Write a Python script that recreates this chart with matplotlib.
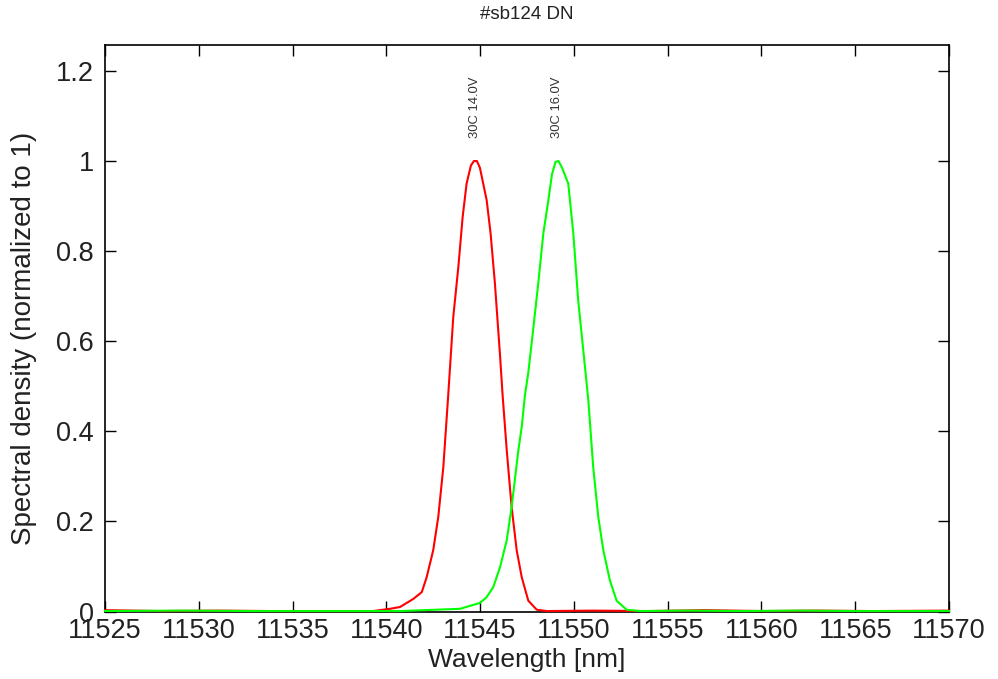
import matplotlib
matplotlib.use('Agg')
import matplotlib.pyplot as plt
from matplotlib.ticker import FuncFormatter

plt.rcParams['font.family'] = ['Liberation Sans', 'DejaVu Sans']

# spectra (wavelength in nm, normalized density)
wl_red = [11525, 11528, 11531, 11534, 11537, 11539.29, 11540.2, 11540.73, 11541.44,
          11541.89, 11542.15, 11542.5, 11542.77, 11543.04, 11543.3, 11543.57, 11543.84,
          11544.07, 11544.28, 11544.51, 11544.67, 11544.83, 11544.99, 11545.35, 11545.56,
          11545.79, 11546.06, 11546.2, 11546.42, 11546.68, 11546.95, 11547.22, 11547.57,
          11548.02, 11548.55, 11551, 11554, 11557, 11560, 11563, 11566, 11570]
sd_red = [0.003, 0.001, 0.002, 0.001, 0.001, 0.001, 0.006, 0.010, 0.028,
          0.043, 0.076, 0.136, 0.21, 0.321, 0.48, 0.654, 0.765,
          0.876, 0.95, 0.99, 1.0, 1.0, 0.985, 0.913, 0.839,
          0.728, 0.57, 0.48, 0.358, 0.232, 0.136, 0.076, 0.024,
          0.004, 0.001, 0.002, 0.001, 0.003, 0.001, 0.002, 0.001, 0.002]

wl_green = [11525, 11529, 11533, 11537, 11540.73, 11543.93, 11544.99, 11545.35, 11545.7,
            11546.06, 11546.42, 11546.68, 11547.04, 11547.22, 11547.39, 11547.57, 11547.84,
            11548.1, 11548.37, 11548.64, 11548.83, 11549.02, 11549.18, 11549.37, 11549.7,
            11549.97, 11550.23, 11550.5, 11550.77, 11551.03, 11551.3, 11551.57, 11551.92,
            11552.28, 11552.81, 11553.52, 11556, 11559, 11562, 11565, 11570]
sd_green = [0.001, 0.002, 0.001, 0.001, 0.001, 0.006, 0.019, 0.032, 0.054,
            0.098, 0.158, 0.232, 0.358, 0.41, 0.48, 0.53, 0.63,
            0.728, 0.839, 0.913, 0.97, 0.998, 1.0, 0.985, 0.95,
            0.839, 0.691, 0.58, 0.469, 0.321, 0.21, 0.136, 0.069,
            0.024, 0.004, 0.001, 0.002, 0.001, 0.002, 0.001, 0.001]

peaks = [11544.75, 11549.1]
peak_labels = ['30C 14.0V', '30C 16.0V']

fig = plt.figure(figsize=(9.98, 6.79), dpi=100)
ax = fig.add_axes([0.1052, 0.0994, 0.8457, 0.8343])

ax.plot(wl_red, sd_red, color='#ff0000', lw=1.5, clip_on=False, zorder=3)
ax.plot(wl_green, sd_green, color='#00ff00', lw=1.5, clip_on=False, zorder=3)

for p, lab in zip(peaks, peak_labels):
    ax.text(p, 1.05, lab, rotation=90, ha='center', va='bottom',
            fontsize=9.4, color='#333333')

ax.set_xlim(11525, 11570)
ax.set_ylim(0, 1.2575)
ax.set_xticks(range(11525, 11571, 5))
ax.set_yticks([0, 0.2, 0.4, 0.6, 0.8, 1.0, 1.2])
ax.yaxis.set_major_formatter(FuncFormatter(lambda v, pos: '%g' % round(v, 2)))

ax.tick_params(direction='in', top=True, right=True, length=8, width=1,
               labelsize=19.5, labelcolor='#222222')
ax.tick_params(axis='x', pad=5)
ax.tick_params(axis='y', pad=8)
for s in ax.spines.values():
    s.set_linewidth(1.2)

ax.set_xlabel('Wavelength [nm]', fontsize=19, color='#222222', labelpad=2.5)
ax.set_ylabel('Spectral density (normalized to 1)', fontsize=20, color='#222222')
ax.yaxis.set_label_coords(-0.0806, 0.482)
fig.text(0.5277, 0.978, '#sb124 DN', ha='center', va='center', fontsize=13.5, color='#222222')

fig.savefig('out.png', dpi=100)
